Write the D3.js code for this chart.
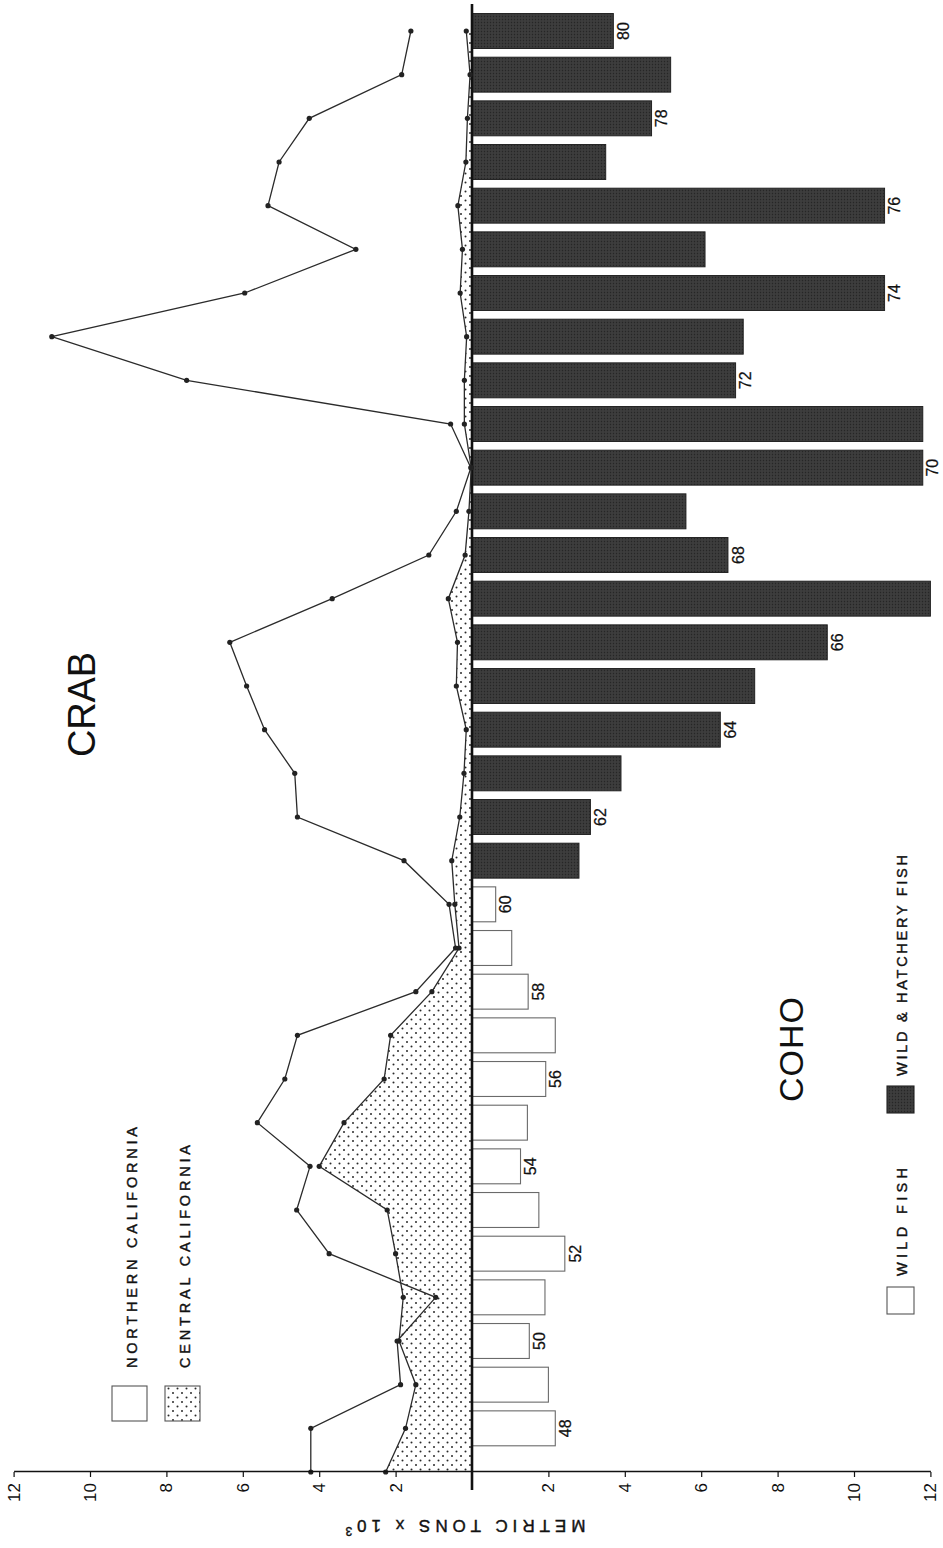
<!DOCTYPE html>
<html>
<head>
<meta charset="utf-8">
<script src="https://cdn.jsdelivr.net/npm/d3@7"></script>
<style>
  html, body { margin: 0; padding: 0; background: #ffffff; }
  svg { display: block; font-family: "Liberation Sans", Arial, Helvetica, sans-serif; }
</style>
</head>
<body>
<svg id="chart" width="943" height="1548"></svg>
<script>
// ---- Data: annual landings, metric tons x 10^3 ----
const crabYears = [1947, 1948, 1949, 1950, 1951, 1952, 1953, 1954, 1955, 1956, 1957,
  1958, 1959, 1960, 1961, 1962, 1963, 1964, 1965, 1966, 1967, 1968, 1969, 1970,
  1971, 1972, 1973, 1974, 1975, 1976, 1977, 1978, 1979, 1980];
const crabNorthern = [4.22, 4.22, 1.87, 1.96, 0.95, 3.74, 4.59, 4.24, 5.62, 4.90, 4.57,
  1.47, 0.43, 0.60, 1.78, 4.57, 4.64, 5.43, 5.90, 6.34, 3.66, 1.13, 0.41, 0.03,
  0.56, 7.47, 11.0, 5.95, 3.04, 5.34, 5.05, 4.26, 1.84, 1.60];
const crabCentral = [2.26, 1.74, 1.47, 1.91, 1.80, 2.00, 2.22, 4.00, 3.35, 2.30, 2.13,
  1.05, 0.34, 0.45, 0.53, 0.32, 0.21, 0.15, 0.41, 0.38, 0.62, 0.18, 0.08, 0.02,
  0.20, 0.20, 0.14, 0.31, 0.25, 0.37, 0.16, 0.12, 0.05, 0.15];

const cohoWildYears = [1948, 1949, 1950, 1951, 1952, 1953, 1954, 1955, 1956, 1957,
  1958, 1959, 1960];
const cohoWild = [2.18, 2.00, 1.50, 1.91, 2.43, 1.75, 1.27, 1.45, 1.93, 2.18,
  1.47, 1.04, 0.62];
const cohoMixedYears = [1961, 1962, 1963, 1964, 1965, 1966, 1967, 1968, 1969, 1970,
  1971, 1972, 1973, 1974, 1975, 1976, 1977, 1978, 1979, 1980];
const cohoMixed = [2.8, 3.1, 3.9, 6.5, 7.4, 9.3, 12.0, 6.7, 5.6, 11.8,
  11.8, 6.9, 7.1, 10.8, 6.1, 10.8, 3.5, 4.7, 5.2, 3.7];

const valueTicks = [-12, -10, -8, -6, -4, -2, 2, 4, 6, 8, 10, 12];
const labelledYears = [1948, 1950, 1952, 1954, 1956, 1958, 1960, 1962, 1964, 1966,
  1968, 1970, 1972, 1974, 1976, 1978, 1980];

// ---- Frame: drawn as a normal year-by-tonnage chart, then turned on its side ----
const svg = d3.select("#chart");
const g = svg.append("g").attr("transform", "translate(0,1548) rotate(-90)");

const x = d3.scaleLinear().domain([1947, 1980]).range([76, 1517]);
const cohoYears = cohoWildYears.concat(cohoMixedYears);
const band = d3.scaleBand()
  .domain(cohoYears)
  .range([x(1947.5), x(1980.5)])
  .paddingInner(0.2)
  .paddingOuter(0.1);
// crab plotted as negative (one side of zero), coho positive (other side)
const v = d3.scaleLinear().domain([-12, 12]).range([13.6, 930.4]);

const defs = svg.append("defs");
const dots = defs.append("pattern")
  .attr("id", "dots").attr("patternUnits", "userSpaceOnUse")
  .attr("width", 9).attr("height", 9);
dots.append("rect").attr("width", 9).attr("height", 9).attr("fill", "#ffffff");
dots.append("circle").attr("cx", 2).attr("cy", 2).attr("r", 1).attr("fill", "#2a2a2a");
dots.append("circle").attr("cx", 6.5).attr("cy", 6.5).attr("r", 1).attr("fill", "#2a2a2a");

const screen = defs.append("pattern")
  .attr("id", "screen").attr("patternUnits", "userSpaceOnUse")
  .attr("width", 3).attr("height", 3);
screen.append("rect").attr("width", 3).attr("height", 3).attr("fill", "#3d3d3d");
screen.append("circle").attr("cx", 1.5).attr("cy", 1.5).attr("r", 0.8).attr("fill", "#262626");

// ---- Crab: central California shaded area ----
const crabN = crabYears.map((yr, i) => ({ yr, val: crabNorthern[i] }));
const crabC = crabYears.map((yr, i) => ({ yr, val: crabCentral[i] }));

const area = d3.area()
  .x(d => x(d.yr))
  .y0(v(0))
  .y1(d => v(-d.val));
g.append("path").datum(crabC)
  .attr("d", area)
  .attr("fill", "url(#dots)")
  .attr("stroke", "none");

// ---- Coho bars ----
const wildData = cohoWildYears.map((yr, i) => ({ yr, val: cohoWild[i] }));
const mixedData = cohoMixedYears.map((yr, i) => ({ yr, val: cohoMixed[i] }));

g.append("g").selectAll("rect").data(wildData).join("rect")
  .attr("x", d => band(d.yr))
  .attr("width", band.bandwidth())
  .attr("y", v(0))
  .attr("height", d => v(d.val) - v(0))
  .attr("fill", "#ffffff")
  .attr("stroke", "#6a6a6a")
  .attr("stroke-width", 1.1);

g.append("g").selectAll("rect").data(mixedData).join("rect")
  .attr("x", d => band(d.yr))
  .attr("width", band.bandwidth())
  .attr("y", v(0))
  .attr("height", d => v(d.val) - v(0))
  .attr("fill", "url(#screen)")
  .attr("stroke", "#222222")
  .attr("stroke-width", 1);

// year labels at the ends of the coho bars
const allCoho = wildData.concat(mixedData);
g.append("g").selectAll("text")
  .data(allCoho.filter(d => labelledYears.includes(d.yr)))
  .join("text")
  .attr("x", d => band(d.yr) + band.bandwidth() / 2)
  .attr("y", d => v(d.val) + 4)
  .attr("dy", "0.73em")
  .attr("text-anchor", "middle")
  .attr("font-size", 16)
  .attr("fill", "#111")
  .attr("stroke", "#111").attr("stroke-width", 0.25)
  .text(d => String(d.yr).slice(2));

// ---- Zero line ----
g.append("line")
  .attr("x1", x(1947) - 18).attr("x2", x(1980) + 27)
  .attr("y1", v(0)).attr("y2", v(0))
  .attr("stroke", "#111").attr("stroke-width", 2.6);

// ---- Crab lines with point markers ----
const line = d3.line().x(d => x(d.yr)).y(d => v(-d.val));
[crabC, crabN].forEach(series => {
  g.append("path").datum(series)
    .attr("d", line)
    .attr("fill", "none")
    .attr("stroke", "#2b2b2b")
    .attr("stroke-width", 1.3);
  g.append("g").selectAll("circle").data(series).join("circle")
    .attr("cx", d => x(d.yr))
    .attr("cy", d => v(-d.val))
    .attr("r", 2.6)
    .attr("fill", "#222");
});

// ---- Tonnage axis ----
const axis = d3.axisLeft(v)
  .tickValues(valueTicks)
  .tickFormat(d => Math.abs(d))
  .tickSize(5)
  .tickSizeOuter(0)
  .tickPadding(6);
const ag = g.append("g").attr("transform", `translate(${x(1947)},0)`).call(axis);
ag.select(".domain").attr("stroke", "#111").attr("stroke-width", 1.6);
ag.selectAll(".tick line").attr("stroke", "#111").attr("stroke-width", 1.2);
ag.selectAll("text")
  .attr("font-size", 17)
  .attr("fill", "#111")
  .attr("font-family", "'Liberation Sans', Arial, sans-serif");

const title = g.append("text")
  .attr("transform", "translate(28,463) rotate(-90)")
  .attr("text-anchor", "middle")
  .attr("font-size", 17)
  .attr("letter-spacing", 5)
  .attr("fill", "#111")
  .attr("stroke", "#111").attr("stroke-width", 0.4);
title.append("tspan").text("METRIC TONS x 10");
title.append("tspan").attr("dy", -7).attr("font-size", 12).text("3");

// ---- Section titles ----
g.append("text")
  .attr("x", 791).attr("y", 95)
  .attr("font-size", 38)
  .attr("textLength", 105).attr("lengthAdjust", "spacing")
  .attr("fill", "#111")
  .text("CRAB");
g.append("text")
  .attr("x", 446).attr("y", 803)
  .attr("font-size", 34)
  .attr("letter-spacing", 1)
  .attr("fill", "#111")
  .text("COHO");

// ---- Legends ----
function legendItem(bx, by, size, fill, stroke, label, tx, ty, len) {
  g.append("rect")
    .attr("x", bx).attr("y", by).attr("width", size).attr("height", size)
    .attr("fill", fill).attr("stroke", stroke).attr("stroke-width", 1.1);
  g.append("text")
    .attr("x", tx).attr("y", ty)
    .attr("font-size", 14.5)
    .attr("textLength", len).attr("lengthAdjust", "spacing")
    .attr("fill", "#111")
    .attr("stroke", "#111").attr("stroke-width", 0.4)
    .text(label);
}
legendItem(127, 112, 35, "#ffffff", "#555", "NORTHERN CALIFORNIA", 180, 137, 241);
legendItem(127, 165, 35, "url(#dots)", "#555", "CENTRAL CALIFORNIA", 180, 190, 223);
legendItem(234, 887, 27, "#ffffff", "#555", "WILD FISH", 272, 907, 108);
legendItem(435, 887, 27, "url(#screen)", "#222", "WILD & HATCHERY FISH", 472, 907, 221);
</script>
</body>
</html>
